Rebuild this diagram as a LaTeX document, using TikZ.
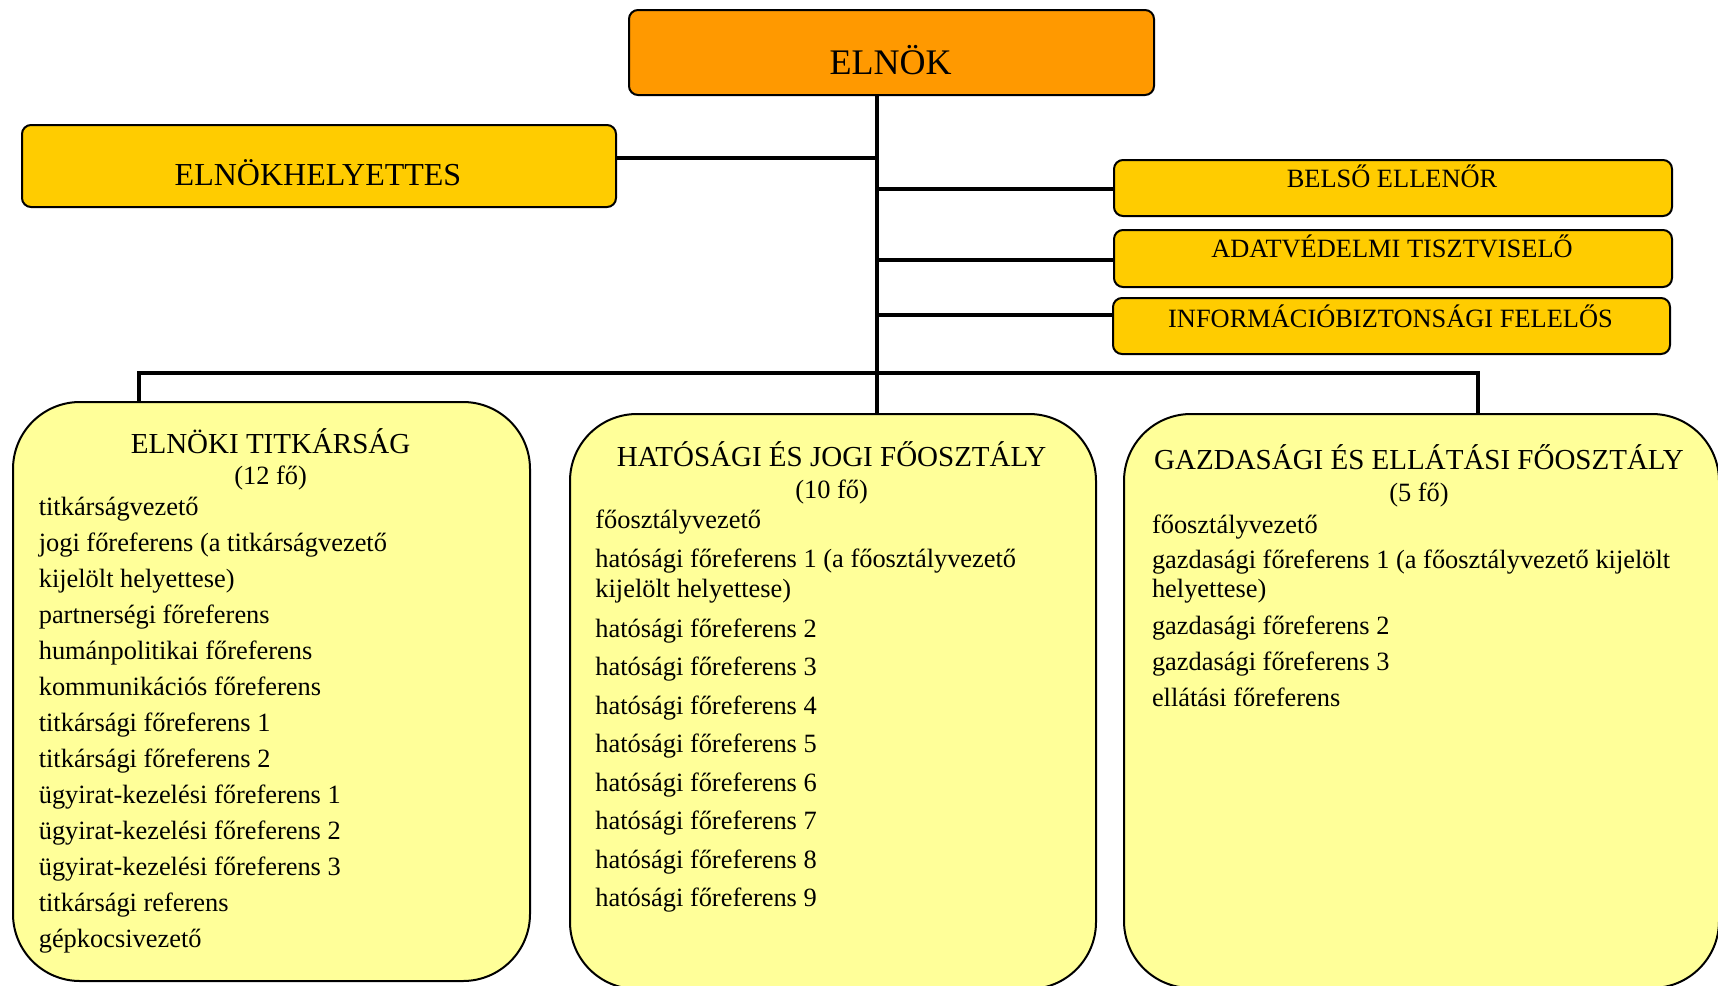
\documentclass[tikz,border=0pt]{standalone}
\usepackage{fontspec}
\setmainfont{Liberation Serif}
\definecolor{orangeA}{HTML}{FF9900}
\definecolor{goldA}{HTML}{FFCC00}
\definecolor{paleA}{HTML}{FFFF99}
\begin{document}
\begin{tikzpicture}[x=0.5pt,y=-0.5pt,
  box/.style={draw=black, line width=1pt, rounded corners=4.5pt, anchor=north west, inner sep=0pt},
  bigbox/.style={draw=black, line width=1pt, rounded corners=33.5pt, anchor=north west, inner sep=0pt, fill=paleA},
  conn/.style={draw=black, line width=2pt},
  item/.style={font=\fontsize{13.2}{15}\selectfont, inner sep=0pt, anchor=base west},
  captxt/.style={font=\fontsize{13.2}{15}\selectfont, inner sep=0pt, anchor=base},
  ttl/.style={font=\fontsize{14.5}{17}\selectfont, inner sep=0pt, anchor=base}]
\useasboundingbox (0,0) rectangle (1718,985);
\clip (0,0) rectangle (1718,985);

% top boxes
\node[box, fill=orangeA, minimum width=262.5pt, minimum height=42.5pt] (elnok) at (628,9) {};
\node[inner sep=0pt, anchor=base, font=\fontsize{18}{21}\selectfont] (elnokT) at (890.5,74) {ELNÖK};
\node[box, fill=goldA, minimum width=297pt, minimum height=41pt] (hely) at (21,124) {};
\node[inner sep=0pt, anchor=base, font=\fontsize{16}{19}\selectfont] (helyT) at (318,185) {ELNÖKHELYETTES};
\node[box, fill=goldA, minimum width=279pt, minimum height=28pt] (belso) at (1113,159) {};
\node[captxt] (belsoT) at (1392,187) {BELSŐ ELLENŐR};
\node[box, fill=goldA, minimum width=279pt, minimum height=28.5pt] (adat) at (1113,229) {};
\node[captxt] (adatT) at (1392,257.3) {ADATVÉDELMI TISZTVISELŐ};
\node[box, fill=goldA, minimum width=278.5pt, minimum height=28pt] (info) at (1112,297) {};
\node[captxt] (infoT) at (1390.5,327) {INFORMÁCIÓBIZTONSÁGI FELELŐS};

% big boxes
\node[bigbox, minimum width=258.5pt, minimum height=289.5pt] (left) at (12,401) {};
\node[bigbox, minimum width=263pt, minimum height=287.5pt] (mid) at (569,413) {};
\node[bigbox, minimum width=297.5pt, minimum height=287pt] (right) at (1123,413) {};

% connectors
\coordinate (trTop) at (876.5,94);
\coordinate (hJ) at (876.5,158);
\coordinate (bJ) at (876.5,188.5);
\coordinate (aJ) at (876.5,259.7);
\coordinate (iJ) at (876.5,314.5);
\coordinate (busL) at (139,372.5);
\coordinate (busR) at (1478,372.5);
\draw[conn] (trTop) -- (mid.north -| trTop);
\draw[conn] (hely.east |- hJ) -- (hJ);
\draw[conn] (bJ) -- (belso.west |- bJ);
\draw[conn] (aJ) -- (adat.west |- aJ);
\draw[conn] (iJ) -- (info.west |- iJ);
\draw[conn] (left.north -| busL) -- (busL) -- (busR) -- (right.north -| busR);

% left box text
\node[ttl] (lT1) at (270.6,453.3) {ELNÖKI TITKÁRSÁG};
\node[captxt] (lT2) at (270.6,484.7) {(12 fő)};
\foreach \t/\y [count=\i] in {titkárságvezető/515.3, jogi főreferens (a titkárságvezető/551.3, kijelölt helyettese)/587.3, partnerségi főreferens/623.3, humánpolitikai főreferens/659.3, kommunikációs főreferens/695.3, titkársági főreferens 1/731.3, titkársági főreferens 2/767.3, ügyirat-kezelési főreferens 1/803.3, ügyirat-kezelési főreferens 2/839.3, ügyirat-kezelési főreferens 3/875.3, titkársági referens/911.3, gépkocsivezető/947.3}
  \node[item] (L\i) at (38.4,\y) {\t};

% middle box text
\node[ttl] (mT1) at (831.6,466.4) {HATÓSÁGI ÉS JOGI FŐOSZTÁLY};
\node[captxt] (mT2) at (831.6,498) {(10 fő)};
\foreach \t/\y [count=\i] in {főosztályvezető/528.7, hatósági főreferens 1 (a főosztályvezető/567, kijelölt helyettese)/597.7, hatósági főreferens 2/637.1, hatósági főreferens 3/675.6, hatósági főreferens 4/714.1, hatósági főreferens 5/752.6, hatósági főreferens 6/791.1, hatósági főreferens 7/829.6, hatósági főreferens 8/868.1, hatósági főreferens 9/906.6}
  \node[item] (M\i) at (595,\y) {\t};

% right box text
\node[ttl] (rT1) at (1419,469.6) {GAZDASÁGI ÉS ELLÁTÁSI FŐOSZTÁLY};
\node[captxt] (rT2) at (1419,501.3) {(5 fő)};
\foreach \t/\y [count=\i] in {főosztályvezető/533, gazdasági főreferens 1 (a főosztályvezető kijelölt/568.1, helyettese)/597.7, gazdasági főreferens 2/634.9, gazdasági főreferens 3/670, ellátási főreferens/706.2}
  \node[item] (R\i) at (1151.6,\y) {\t};
\end{tikzpicture}
\end{document}
